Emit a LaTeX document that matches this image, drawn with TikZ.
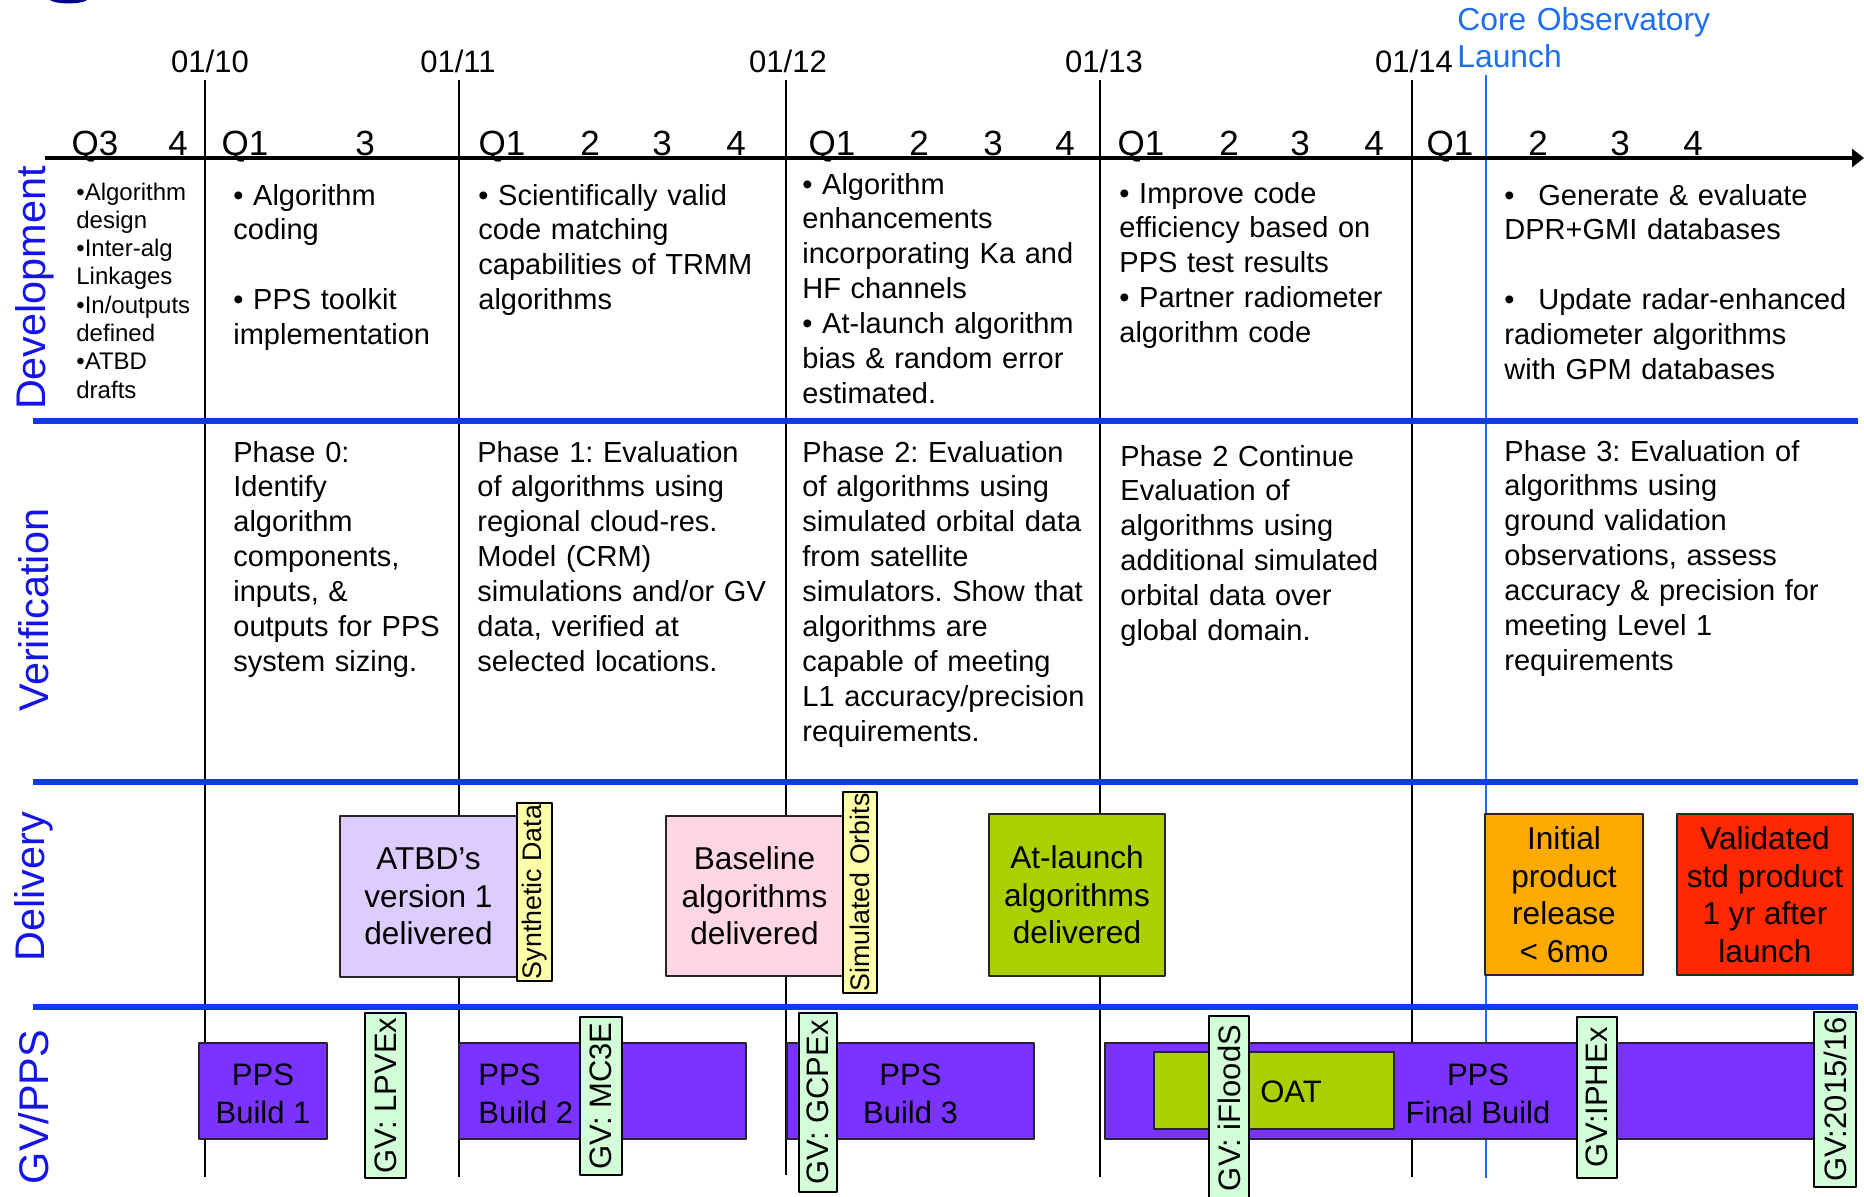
\documentclass[tikz,border=0pt]{standalone}
\usepackage{fontspec}
\setmainfont{Liberation Sans}
\usepackage{tikz}
\usetikzlibrary{arrows.meta}
\frenchspacing
\definecolor{sepblue}{HTML}{1038F5}
\definecolor{labelblue}{HTML}{1414E6}
\definecolor{launchblue}{HTML}{1E6EF0}
\definecolor{lavender}{HTML}{DDCCFF}
\definecolor{pinkbox}{HTML}{FFD6E2}
\definecolor{limebox}{HTML}{AAD000}
\definecolor{orangebox}{HTML}{FFAA00}
\definecolor{redbox}{HTML}{FF2800}
\definecolor{ppspurple}{HTML}{7B33FF}
\definecolor{tagyellow}{HTML}{FFFFAA}
\definecolor{taggreen}{HTML}{D2FFD7}
\definecolor{logonavy}{HTML}{00008C}
\tikzset{
  every picture/.style={line join=round, >=Stealth},
  yearline/.style={line width=1pt},
  launchline/.style={line width=1pt, launchblue},
  axis/.style={line width=2pt, -{Triangle[length=6pt,width=9pt]}},
  rowsep/.style={line width=3pt, sepblue},
  rowlabel/.style={rotate=90, inner sep=0pt, text=labelblue, font=\fontsize{20.7}{24}\selectfont},
  datelabel/.style={anchor=base, inner sep=0pt, font=\fontsize{15.5}{18}\selectfont},
  quarter/.style={anchor=base, inner sep=0pt, font=\fontsize{17.5}{20}\selectfont},
  cell/.style={anchor=base west, inner sep=0pt, text width=#1, align=left, font=\fontsize{14.5}{17.45}\selectfont},
  smallcell/.style={cell=#1, font=\fontsize{12}{14.15}\selectfont},
  milestone/.style={draw=black!85, line width=0.75pt, inner sep=0pt, align=center, font=\fontsize{15.8}{18.75}\selectfont},
  ppsbox/.style={draw=black!85, line width=0.75pt, fill=ppspurple, inner sep=0pt, minimum height=48pt},
  ppstext/.style={inner sep=0pt, align=center, font=\fontsize{15.5}{19}\selectfont},
  tag/.style={draw=black, line width=1pt, inner sep=0pt, rotate=90},
  gvtag/.style={tag, fill=taggreen, font=\fontsize{15.5}{18}\selectfont},
  datatag/.style={tag, fill=tagyellow, font=\fontsize{13.4}{15}\selectfont},
}

\begin{document}
\begin{tikzpicture}[x=0.5pt,y=-0.5pt]
\useasboundingbox (0,0) rectangle (1864,1196);
\fill[logonavy] (50,0) .. controls (55,4.5) and (82,4.5) .. (87,0) -- cycle;
\draw[yearline] (204.5,80)--(204.5,1177);
\draw[yearline] (459,80)--(459,1177);
\draw[yearline] (786,80)--(786,1175);
\draw[yearline] (1100,80)--(1100,1177);
\draw[yearline] (1412,80)--(1412,1177);
\draw[launchline] (1486,75)--(1486,1178);
\draw[axis] (45,158)--(1864,158);
\draw[rowsep] (33,421)--(1858,421);
\draw[rowsep] (33,782)--(1858,782);
\draw[rowsep] (33,1007)--(1858,1007);

\node[rowlabel] (dev) at (35,288) {Development};
\node[rowlabel] (verif) at (34,610) {Verification};
\node[rowlabel] (deliv) at (34,887) {Delivery};
\node[rowlabel] (gvpps) at (34,1107) {GV/PPS};

\node[datelabel] (d10) at (210,72) {01/10};
\node[datelabel] (d11) at (458,72) {01/11};
\node[datelabel] (d12) at (788,72) {01/12};
\node[datelabel] (d13) at (1104,72) {01/13};
\node[datelabel] (d14) at (1414,72) {01/14};
\node[anchor=base west, inner sep=0pt, text width=140pt, align=left, text=launchblue, font=\fontsize{15.9}{18.5}\selectfont] (launch) at (1457,30) {Core Observatory\\Launch};

\node[quarter] (q09c) at (95,155) {Q3};
\node[quarter] (q09d) at (178,155) {4};
\node[quarter] (q10a) at (245,155) {Q1};
\node[quarter] (q10c) at (365,155) {3};
\node[quarter] (q11a) at (502,155) {Q1};
\node[quarter] (q11b) at (590,155) {2};
\node[quarter] (q11c) at (662,155) {3};
\node[quarter] (q11d) at (736,155) {4};
\node[quarter] (q12a) at (832,155) {Q1};
\node[quarter] (q12b) at (919,155) {2};
\node[quarter] (q12c) at (993,155) {3};
\node[quarter] (q12d) at (1065,155) {4};
\node[quarter] (q13a) at (1141,155) {Q1};
\node[quarter] (q13b) at (1229,155) {2};
\node[quarter] (q13c) at (1300,155) {3};
\node[quarter] (q13d) at (1374,155) {4};
\node[quarter] (q14a) at (1450,155) {Q1};
\node[quarter] (q14b) at (1538,155) {2};
\node[quarter] (q14c) at (1620,155) {3};
\node[quarter] (q14d) at (1693,155) {4};

\node[smallcell=70pt] (dev0) at (76,200) {•Algorithm\\design\\•Inter-alg\\Linkages\\•In/outputs\\defined\\•ATBD\\drafts};
\node[cell=150pt] (dev1) at (233,205) {• Algorithm\\coding\\[17.45pt]• PPS toolkit\\implementation};
\node[cell=150pt] (dev2) at (478,205) {• Scientifically valid\\code matching\\capabilities of TRMM\\algorithms};
\node[cell=150pt] (dev3) at (802,194) {• Algorithm\\enhancements\\incorporating Ka and\\HF channels\\• At-launch algorithm\\bias \& random error\\estimated.};
\node[cell=150pt] (dev4) at (1119,203) {• Improve code\\efficiency based on\\PPS test results\\• Partner radiometer\\algorithm code};
\node[cell=180pt] (dev5) at (1504,205) {\makebox[17pt][l]{•}Generate \& evaluate\\DPR+GMI databases\\[17.45pt]\makebox[17pt][l]{•}Update radar-enhanced\\radiometer algorithms\\with GPM databases};

\node[cell=150pt] (ver1) at (233,462) {Phase 0:\\Identify\\algorithm\\components,\\inputs, \&\\outputs for PPS\\system sizing.};
\node[cell=150pt] (ver2) at (477,462) {Phase 1: Evaluation\\of algorithms using\\regional cloud-res.\\Model (CRM)\\simulations and/or GV\\data, verified at\\selected locations.};
\node[cell=150pt] (ver3) at (802,462) {Phase 2: Evaluation\\of algorithms using\\simulated orbital data\\from satellite\\simulators. Show that\\algorithms are\\capable of meeting\\L1 accuracy/precision\\requirements.};
\node[cell=150pt] (ver4) at (1120,466) {Phase 2 Continue\\Evaluation of\\algorithms using\\additional simulated\\orbital data over\\global domain.};
\node[cell=180pt] (ver5) at (1504,461) {Phase 3: Evaluation of\\algorithms using\\ground validation\\observations, assess\\accuracy \& precision for\\meeting Level 1\\requirements};

\node[milestone, fill=lavender, minimum width=88.5pt, minimum height=80.5pt] (atbd) at (428.5,896.5) {ATBD’s\\version 1\\delivered};
\node[datatag, minimum width=89pt, minimum height=17.5pt] (synth) at (534.5,892) {Synthetic Data};
\node[milestone, fill=pinkbox, minimum width=88.5pt, minimum height=80pt] (basealg) at (754.5,896) {Baseline\\algorithms\\delivered};
\node[datatag, minimum width=100.5pt, minimum height=17pt] (simorb) at (860,892.5) {Simulated Orbits};
\node[milestone, fill=limebox, minimum width=88pt, minimum height=81pt] (atlaunch) at (1077,895) {At-launch\\algorithms\\delivered};
\node[milestone, fill=orangebox, minimum width=79pt, minimum height=80.5pt] (initial) at (1564,894.5) {Initial\\product\\release\\< 6mo};
\node[milestone, fill=redbox, minimum width=88pt, minimum height=80.5pt] (validated) at (1765,894.5) {Validated\\std product\\1 yr after\\launch};

\node[ppsbox, minimum width=64pt] (build1) at (263,1091) {};
\node[ppstext] (build1text) at (263,1094) {PPS\\Build 1};
\node[ppsbox, minimum width=143.5pt] (build2) at (602.5,1091) {};
\node[ppstext, anchor=west, align=left] (build2text) at (478,1094) {PPS\\Build 2};
\node[ppsbox, minimum width=123.5pt] (build3) at (910.5,1091) {};
\node[ppstext] (build3text) at (910.5,1094) {PPS\\Build 3};
\node[ppsbox, minimum width=356.5pt] (final) at (1461.5,1091) {};
\node[ppsbox, fill=limebox, minimum width=120pt, minimum height=38.5pt] (oat) at (1274,1090.5) {};
\node[ppstext] (oattext) at (1291,1092) {OAT};
\node[ppstext] (finaltext) at (1478,1094) {PPS\\Final Build};

\node[gvtag, minimum width=82.5pt, minimum height=20.5pt] (lpvex) at (385.5,1095.5) {GV: LPVEx};
\node[gvtag, minimum width=79pt, minimum height=21pt] (mc3e) at (601,1096) {GV: MC3E};
\node[gvtag, minimum width=89.5pt, minimum height=19pt] (gcpex) at (818,1102.5) {GV: GCPEx};
\node[gvtag, minimum width=92pt, minimum height=20pt] (ifloods) at (1229,1108) {GV: iFloodS};
\node[gvtag, minimum width=80.5pt, minimum height=20pt] (iphex) at (1597,1097.5) {GV:IPHEx};
\node[gvtag, minimum width=87.5pt, minimum height=21pt] (gvlast) at (1835,1099.5) {GV:2015/16};
\end{tikzpicture}
\end{document}
